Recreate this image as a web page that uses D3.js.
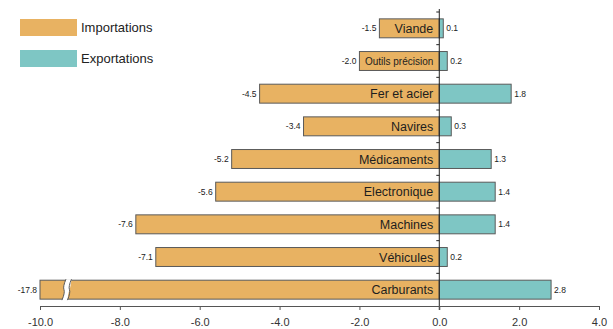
<!DOCTYPE html>
<html>
<head>
<meta charset="utf-8">
<script src="https://cdn.jsdelivr.net/npm/d3@7"></script>
<style>
  html, body { margin: 0; padding: 0; background: #fff; }
  svg { display: block; font-family: "Liberation Sans", Arial, sans-serif; }
</style>
</head>
<body>
<svg id="chart" width="613" height="329"></svg>
<script>
// Trade balance by product, imports (negative) vs exports (positive)
const categories = ["Viande", "Outils précision", "Fer et acier", "Navires", "Médicaments",
                    "Electronique", "Machines", "Véhicules", "Carburants"];
const importations = [-1.5, -2.0, -4.5, -3.4, -5.2, -5.6, -7.6, -7.1, -17.8];
const exportations = [0.1, 0.2, 1.8, 0.3, 1.3, 1.4, 1.4, 0.2, 2.8];
const tickValues = [-10, -8, -6, -4, -2, 0, 2, 4];
const seriesNames = ["Importations", "Exportations"];

const colImp = "#E8B262";
const colExp = "#7EC6C4";
const stroke = "#5a5a5a";

const svg = d3.select("#chart");

const x = d3.scaleLinear().domain([-10, 4]).range([40, 599]).clamp(true);
const y = d3.scaleBand().domain(categories).range([12, 306])
  .paddingInner(0.42).paddingOuter(0.21);

const rows = categories.map((c, i) => ({ cat: c, imp: importations[i], exp: exportations[i] }));

// Import bars
svg.append("g").selectAll("rect").data(rows).join("rect")
  .attr("x", d => x(d.imp))
  .attr("y", d => y(d.cat))
  .attr("width", d => x(0) - x(d.imp))
  .attr("height", y.bandwidth())
  .attr("fill", colImp)
  .attr("stroke", stroke)
  .attr("stroke-width", 1);

// Export bars
svg.append("g").selectAll("rect").data(rows).join("rect")
  .attr("x", x(0))
  .attr("y", d => y(d.cat))
  .attr("width", d => x(d.exp) - x(0))
  .attr("height", y.bandwidth())
  .attr("fill", colExp)
  .attr("stroke", stroke)
  .attr("stroke-width", 1);

// Axis break on bars that run past the left edge of the scale
const broken = rows.filter(d => d.imp < x.domain()[0]);
const brk = svg.append("g");
broken.forEach(d => {
  const t = y(d.cat) - 1, b = y(d.cat) + y.bandwidth() + 1;
  const x0 = x(-9.45), w = 5.5, s = 4;
  const m = (t + b) / 2;
  const edge = (xx) => `M${xx + s},${t} Q${xx + s * 0.2},${m - 3} ${xx + s * 0.5},${m} T${xx},${b}`;
  brk.append("path")
    .attr("d", `M${x0 + s},${t} Q${x0 + s * 0.2},${m - 3} ${x0 + s * 0.5},${m} T${x0},${b}
                L${x0 + w},${b} Q${x0 + w + s * 0.2},${m + 3} ${x0 + w + s * 0.5},${m} T${x0 + w + s},${t} Z`)
    .attr("fill", "#fff");
  [x0, x0 + w].forEach(xx => brk.append("path").attr("d", edge(xx))
    .attr("fill", "none").attr("stroke", stroke).attr("stroke-width", 1));
});

// Vertical zero axis with category separators
const axY = svg.append("g");
axY.append("line").attr("x1", x(0)).attr("x2", x(0)).attr("y1", 9).attr("y2", 310)
  .attr("stroke", "#222").attr("stroke-width", 1);
const bounds = categories.map(c => y(c) - y.step() * y.paddingInner() / 2);
axY.selectAll(".sep").data(bounds.slice(1).concat([y.range()[0]])).join("line")
  .attr("x1", x(0) - 3).attr("x2", x(0))
  .attr("y1", d => d).attr("y2", d => d)
  .attr("stroke", "#222");

// Horizontal value axis
const axX = svg.append("g").attr("transform", "translate(0,306)")
  .call(d3.axisBottom(x).tickValues(tickValues).tickSizeOuter(0).tickSize(4)
    .tickFormat(d3.format(".1f")));
axX.select(".domain").attr("stroke", "#555");
axX.selectAll(".tick line").attr("stroke", "#555");
axX.selectAll(".tick text").attr("font-size", 11).attr("fill", "#333")
  .attr("font-family", "Liberation Sans, Arial, sans-serif").attr("dy", "1.2em")
  .text(d => d3.format(".1f")(d).replace("−", "-"));

// Category labels inside import bars
svg.append("g").selectAll("text").data(rows).join("text")
  .attr("x", x(0) - 6)
  .attr("y", d => y(d.cat) + y.bandwidth() / 2)
  .attr("dy", "0.36em")
  .attr("text-anchor", "end")
  .attr("font-size", d => d.cat === "Outils précision" ? 10 : 12.5)
  .attr("fill", "#1e1e1e")
  .text(d => d.cat);

// Value labels
svg.append("g").selectAll("text").data(rows).join("text")
  .attr("x", d => x(d.imp) - 3)
  .attr("y", d => y(d.cat) + y.bandwidth() / 2)
  .attr("dy", "0.36em")
  .attr("text-anchor", "end")
  .attr("font-size", 8.5)
  .attr("fill", "#222")
  .text(d => d.imp.toFixed(1));

svg.append("g").selectAll("text").data(rows).join("text")
  .attr("x", d => x(d.exp) + 3)
  .attr("y", d => y(d.cat) + y.bandwidth() / 2)
  .attr("dy", "0.36em")
  .attr("font-size", 8.5)
  .attr("fill", "#222")
  .text(d => d.exp.toFixed(1));

// Legend
const legend = svg.append("g");
seriesNames.forEach((name, i) => {
  const g = legend.append("g").attr("transform", `translate(20,${19 + i * 31})`);
  g.append("rect").attr("width", 57).attr("height", 17)
    .attr("fill", i === 0 ? colImp : colExp);
  g.append("text").attr("x", 61).attr("y", 8.5).attr("dy", "0.36em")
    .attr("font-size", 13).attr("fill", "#222").text(name);
});
</script>
</body>
</html>
